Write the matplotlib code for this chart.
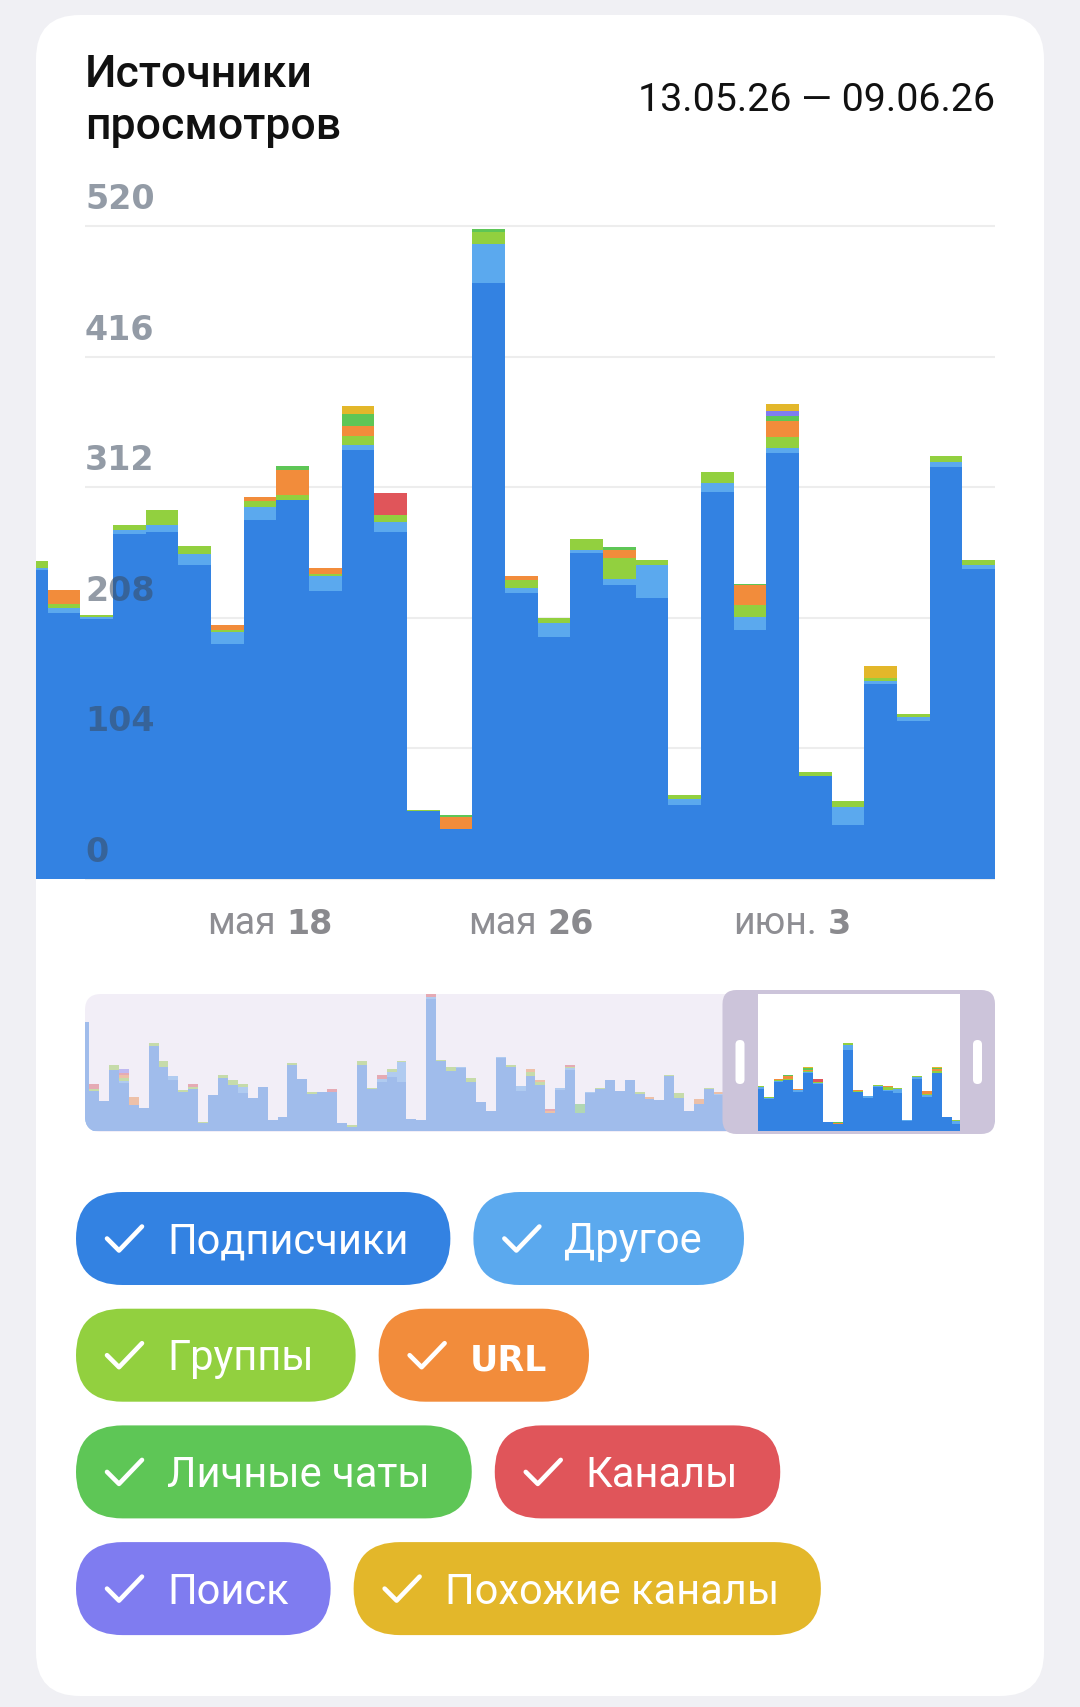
import matplotlib.pyplot as plt
from matplotlib.patches import FancyBboxPatch, Rectangle
import pandas as pd

W, H = 1080, 1708

# ---- data ----
series_names = ["Подписчики", "Другое", "Группы", "URL",
                "Личные чаты", "Каналы", "Поиск", "Похожие каналы"]
series_colors = ["#3382E2", "#5BA9EE", "#92D03F", "#F28C3B",
                 "#5EC656", "#E0555A", "#7F7CF0", "#E3B72A"]

# visible period (one bar per day)
subs = [246, 212, 207, 275, 276, 250, 187, 286, 302, 229,
        342, 276, 54, 40, 475, 228, 193, 260, 234, 224,
        59, 308, 198, 339, 82, 43, 155, 126, 328, 247]
other = [2, 4, 2, 3, 6, 9, 10, 10, 0, 12,
         4, 8, 0, 0, 31, 4, 11, 2, 5, 26,
         5, 7, 11, 4, 0, 14, 3, 3, 4, 3]
groups = [5, 3, 1, 4, 12, 6, 1, 5, 4, 2,
          7, 6, 1, 0, 9, 6, 4, 9, 17, 4,
          3, 9, 9, 9, 3, 5, 2, 2, 5, 4]
url = [0, 11, 0, 0, 0, 0, 4, 3, 20, 5,
       8, 0, 0, 9, 0, 3, 0, 0, 6, 0,
       0, 0, 16, 13, 0, 0, 0, 0, 0, 0]
personal = [0, 0, 0, 0, 0, 0, 0, 0, 3, 0,
            9, 0, 0, 2, 3, 0, 0, 0, 2, 0,
            0, 0, 1, 4, 0, 0, 0, 0, 0, 0]
channels = [0, 0, 0, 0, 0, 0, 0, 0, 0, 0,
            0, 17, 0, 0, 0, 0, 0, 0, 0, 0,
            0, 0, 0, 0, 0, 0, 0, 0, 0, 0]
search = [0, 0, 0, 0, 0, 0, 0, 0, 0, 0,
          0, 0, 0, 0, 0, 0, 0, 0, 0, 0,
          0, 0, 0, 4, 0, 0, 0, 0, 0, 0]
similar = [0, 0, 0, 0, 0, 0, 0, 0, 0, 0,
           7, 0, 0, 0, 0, 0, 0, 0, 0, 0,
           0, 0, 0, 5, 0, 0, 10, 0, 0, 0]

# earlier history shown only in the overview strip
subs_hist = [640, 236, 177, 358, 280, 152, 138, 498, 378, 299,
             230, 246, 49, 211, 309, 270, 222, 192, 260, 63,
             83, 388, 305, 220, 230, 230, 45, 24, 388, 246,
             289, 315, 286, 73, 63, 778, 410, 354, 370, 286,
             171, 118, 429, 374, 236, 325, 270, 104, 240, 358,
             104, 222, 246, 299, 236, 299, 220, 191, 181, 321,
             197, 118, 158]
other_hist = [0, 0, 0, 0, 14, 0, 0, 0, 0, 22,
              0, 0, 0, 0, 0, 0, 34, 0, 0, 0,
              0, 0, 0, 0, 0, 0, 0, 0, 0, 0,
              16, 30, 118, 0, 0, 10, 0, 0, 4, 0,
              0, 0, 8, 0, 26, 0, 0, 0, 12, 10,
              0, 8, 0, 0, 0, 0, 0, 0, 0, 0,
              0, 0, 0]
groups_hist = [0, 10, 0, 28, 16, 0, 0, 20, 33, 0,
               12, 14, 5, 0, 20, 30, 20, 0, 0, 0,
               0, 12, 0, 12, 0, 0, 0, 12, 26, 8,
               0, 20, 6, 0, 0, 0, 6, 20, 0, 26,
               0, 0, 0, 16, 0, 20, 16, 0, 0, 8,
               0, 0, 8, 0, 0, 0, 12, 0, 0, 8,
               24, 0, 0]
url_hist = [0, 0, 0, 0, 18, 46, 0, 0, 0, 0,
            0, 0, 0, 0, 0, 0, 0, 0, 0, 0,
            0, 0, 0, 0, 0, 0, 0, 0, 0, 0,
            0, 0, 0, 0, 0, 0, 0, 0, 0, 0,
            0, 0, 0, 0, 0, 20, 16, 12, 0, 0,
            0, 0, 0, 0, 0, 0, 0, 10, 0, 0,
            0, 0, 33]
personal_hist = [0, 0, 0, 0, 0, 0, 0, 0, 0, 0,
                 0, 0, 0, 0, 0, 0, 0, 0, 0, 0,
                 0, 0, 0, 0, 0, 0, 0, 0, 0, 0,
                 0, 0, 0, 0, 0, 0, 0, 0, 0, 0,
                 0, 0, 0, 0, 0, 0, 0, 0, 0, 0,
                 57, 0, 0, 0, 0, 0, 0, 0, 0, 0,
                 0, 0, 0]
channels_hist = [0, 28, 0, 0, 16, 5, 0, 0, 0, 0,
                 0, 16, 0, 0, 0, 0, 0, 0, 0, 0,
                 0, 0, 0, 0, 0, 16, 0, 0, 0, 0,
                 24, 0, 0, 0, 0, 24, 0, 0, 0, 0,
                 0, 0, 0, 0, 0, 0, 0, 16, 0, 12,
                 0, 0, 0, 0, 0, 0, 0, 0, 0, 0,
                 0, 0, 0]
search_hist = [0, 0, 0, 0, 18, 0, 0, 0, 0, 0,
               0, 0, 0, 0, 0, 0, 0, 0, 0, 0,
               0, 0, 0, 0, 0, 0, 0, 0, 0, 0,
               0, 0, 0, 0, 0, 0, 0, 0, 0, 0,
               0, 0, 0, 0, 0, 0, 0, 0, 0, 0,
               0, 0, 0, 0, 0, 0, 0, 0, 0, 0,
               0, 0, 0]
similar_hist = [0] * len(subs_hist)

days = pd.date_range("2026-05-11", periods=len(subs))
month_abbr = {5: "мая", 6: "июн."}
tick_days = ["2026-05-18", "2026-05-26", "2026-06-03"]
y_ticks = [0, 104, 208, 312, 416, 520]
title = "Источники\nпросмотров"
period = "13.05.26 — 09.06.26"

main_series = [subs, other, groups, url, personal, channels, search, similar]
hist_series = [subs_hist, other_hist, groups_hist, url_hist,
               personal_hist, channels_hist, search_hist, similar_hist]
all_series = [h + m for h, m in zip(hist_series, main_series)]

GRAY = "#8E8E93"


def px_rect(x0, y0, x1, y1):
    return [x0 / W, 1 - y1 / H, (x1 - x0) / W, (y1 - y0) / H]


def stack(axis, series):
    n = len(series[0])
    xs = list(range(n))
    base = [0] * n
    bars = []
    for vals, col in zip(series, series_colors):
        bars.append(axis.bar(xs, vals, width=1.0, bottom=base, align="edge",
                             color=col, linewidth=0, antialiased=False))
        base = [b + v for b, v in zip(base, vals)]
    return bars, base


fig = plt.figure(figsize=(W / 100, H / 100), dpi=100)
fig.patch.set_facecolor("#F0F0F4")
r = fig.canvas.get_renderer()

# background card
bg = fig.add_axes([0, 0, 1, 1], zorder=0)
bg.set_xlim(0, W)
bg.set_ylim(H, 0)
bg.axis("off")
bg.add_patch(FancyBboxPatch((36, 16), 1008, 1681,
                            boxstyle="round,pad=0,rounding_size=44",
                            fc="white", ec="none"))

t1, t2 = title.split("\n")
bg.text(85, 87, t1, fontsize=32, family="Roboto", weight="medium",
        color="#111111", va="baseline")
bg.text(85, 139.5, t2, fontsize=32, family="Roboto", weight="medium",
        color="#111111", va="baseline")
bg.text(995, 111, period, fontsize=28.4, family="Roboto", color="#111111",
        ha="right", va="baseline")

# main chart
ax = fig.add_axes(px_rect(36, 227, 995, 880), zorder=1)
ax.set_facecolor("none")
stack(ax, main_series)
ax.set_xlim(0.64, len(subs))
ax.set_ylim(0, 520)
ax.axis("off")

gx0 = ax.transData.inverted().transform((85, 0))[0]
ax.hlines(y_ticks, gx0, len(subs), color="#EDEDED", lw=1.5, zorder=0.5,
          clip_on=False)
for v in y_ticks:
    ax.annotate(str(v), xy=(gx0, v), xytext=(0, 18), textcoords="offset pixels",
                fontsize=24, family="DejaVu Sans", weight="bold",
                color="#3A4A5E", alpha=0.55, va="baseline", ha="left",
                zorder=6, annotation_clip=False)

for d in pd.to_datetime(tick_days):
    i = (d - days[0]).days
    a1 = ax.annotate(month_abbr[d.month], xy=(i + 0.8, 0), xytext=(0, -54),
                     textcoords="offset pixels", fontsize=27, family="Roboto",
                     color=GRAY, va="baseline", ha="left", annotation_clip=False)
    a2 = ax.annotate(str(d.day), xy=(i + 0.8, 0), xytext=(0, -54),
                     textcoords="offset pixels", fontsize=24,
                     family="DejaVu Sans", weight="bold", color="#8A8A8E",
                     va="baseline", ha="left", annotation_clip=False)
    w1 = a1.get_window_extent(r).width
    w2 = a2.get_window_extent(r).width
    tot = w1 + 11 + w2
    a1.xyann = (-tot / 2, -54)
    a2.xyann = (-tot / 2 + w1 + 11, -54)

# overview strip
mm = fig.add_axes(px_rect(85, 994, 995, 1132), zorder=1)
mm.set_facecolor("none")
clip = FancyBboxPatch((85, 995), 910, 138, boxstyle="round,pad=0,rounding_size=16",
                      transform=bg.transData, fc="none", ec="none")
bars, totals = stack(mm, all_series)
for cont in bars:
    for p in cont:
        p.set_clip_path(clip)
mm.set_xlim(0.59, 92.33)
mm.set_ylim(0, max(totals))
mm.axis("off")

# overlay layer: dimmed region, window frame, legend chips
top = fig.add_axes([0, 0, 1, 1], zorder=2)
top.set_facecolor("none")
top.axis("off")

top.add_patch(FancyBboxPatch((85, 995), 660, 138, boxstyle="round,pad=0,rounding_size=16",
                             fc="#EAE3F2", ec="none", alpha=0.6))
FRAME = "#CCC4DA"
top.add_patch(FancyBboxPatch((722.5, 991), 35.2, 144, boxstyle="round,pad=0,rounding_size=14",
                             fc=FRAME, ec="none"))
top.add_patch(Rectangle((740, 991), 17.7, 144, fc=FRAME, ec="none"))
top.add_patch(FancyBboxPatch((960, 991), 35, 144, boxstyle="round,pad=0,rounding_size=14",
                             fc=FRAME, ec="none"))
top.add_patch(Rectangle((960, 991), 17, 144, fc=FRAME, ec="none"))
top.add_patch(Rectangle((757.7, 991), 202.3, 3.5, fc=FRAME, ec="none"))
top.add_patch(Rectangle((757.7, 1131.5), 202.3, 3.5, fc=FRAME, ec="none"))
for cx in (740, 977.5):
    top.add_patch(FancyBboxPatch((cx - 4.5, 1041), 9, 44,
                                 boxstyle="round,pad=0,rounding_size=4.5",
                                 fc="white", ec="none"))

chip_rows = [[0, 1], [2, 3], [4, 5], [6, 7]]
chip_h = 93
for ri, row in enumerate(chip_rows):
    x0 = 76
    y0 = 1193 + ri * 116.7
    yc = y0 + chip_h / 2
    for k in row:
        name = series_names[k]
        if name == "URL":
            t = top.text(x0 + 91, yc + 14, name, fontsize=25, family="DejaVu Sans",
                         weight="bold", color="white", va="baseline", zorder=4)
        else:
            t = top.text(x0 + 91, yc + 14, name, fontsize=30, family="Roboto",
                         color="white", va="baseline", zorder=4)
        w = 91 + t.get_window_extent(r).width + 42
        top.add_patch(FancyBboxPatch((x0, y0), w, chip_h,
                                     boxstyle=f"round,pad=0,rounding_size={chip_h / 2}",
                                     fc=series_colors[k], ec="none", zorder=2))
        top.plot([x0 + 31, x0 + 43, x0 + 66], [yc, yc + 12, yc - 12], color="white",
                 lw=3.3, solid_capstyle="round", solid_joinstyle="round", zorder=4)
        x0 += w + 23

top.set_xlim(0, W)
top.set_ylim(H, 0)

fig.savefig("out.png", dpi=100)
